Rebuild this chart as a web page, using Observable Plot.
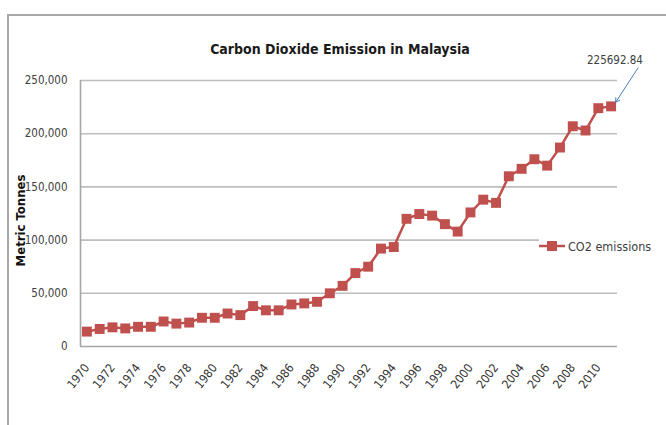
<!DOCTYPE html>
<html><head><meta charset="utf-8">
<script src="https://cdn.jsdelivr.net/npm/d3@7"></script>
<script src="https://cdn.jsdelivr.net/npm/@observablehq/plot@0.6"></script>
<style>
body{margin:0;background:#fff;}
#wrap{position:relative;width:666px;height:425px;overflow:hidden;font-family:"Liberation Sans Narrow","DejaVu Sans Condensed",sans-serif;}
#frame{position:absolute;left:7px;top:14px;width:700px;height:500px;border:2px solid #a8a8a8;box-sizing:border-box;}
#legend{position:absolute;left:539px;top:237px;background:#fff;display:flex;align-items:center;font-size:12.5px;color:#404040;padding:0 2px 0 0;height:18px;}
#chart{position:absolute;left:0;top:0;}
</style></head>
<body><div id="wrap"><div id="chart"></div></div>
<script>
const title = "Carbon Dioxide Emission in Malaysia";
const yLabel = "Metric Tonnes";
const seriesName = "CO2 emissions";
const lastLabel = "225692.84";
const years = [1970,1971,1972,1973,1974,1975,1976,1977,1978,1979,1980,1981,1982,1983,1984,1985,1986,1987,1988,1989,1990,1991,1992,1993,1994,1995,1996,1997,1998,1999,2000,2001,2002,2003,2004,2005,2006,2007,2008,2009,2010,2011];
const emissions = [14000,16500,18000,17000,18500,18500,23500,21500,22500,27000,27000,31000,29500,38000,34000,34000,39500,40500,42000,50000,57000,69000,75000,92000,93500,120000,124500,123000,115000,108000,126000,138000,135000,160000,167000,176000,170000,187000,207000,203000,224000,225692.84];
const xTickLabels = [1970,1972,1974,1976,1978,1980,1982,1984,1986,1988,1990,1992,1994,1996,1998,2000,2002,2004,2006,2008,2010];
const yTicks = [0,50000,100000,150000,200000,250000];

const data = years.map((y, i) => ({year: y, value: emissions[i]}));
const last = data[data.length - 1];
const red = "#c0504d";
const fontFam = '"Liberation Sans Narrow","DejaVu Sans Condensed",sans-serif';

const plot = Plot.plot({
  width: 666, height: 425,
  marginLeft: 80, marginRight: 49, marginTop: 80, marginBottom: 79,
  style: {background: "transparent", fontFamily: fontFam, overflow: "visible"},
  x: {domain: [years[0] - 0.5, years[years.length - 1] + 0.5], axis: null},
  y: {domain: [0, 250000], axis: null},
  marks: [
    Plot.gridY(yTicks.slice(1), {stroke: "#bdbdbd", strokeOpacity: 1, strokeWidth: 1.6}),
    Plot.ruleX([years[0] - 0.5], {stroke: "#a6a6a6", strokeWidth: 1.6}),
    Plot.ruleY([0], {stroke: "#a6a6a6", strokeWidth: 1.6}),
    Plot.axisY(yTicks, {tickSize: 0, tickPadding: 13, tickFormat: d3.format(","), fontSize: 11.5, fill: "#404040", label: null}),
    Plot.axisX(xTickLabels, {tickSize: 0, tickPadding: 19, tickRotate: -52, tickFormat: d => String(d), fontSize: 12, fill: "#333", label: null}),
    Plot.line(data, {x: "year", y: "value", stroke: red, strokeWidth: 2.5}),
    Plot.dot(data, {x: "year", y: "value", symbol: "square", r: 5.6, fill: red, stroke: "none"}),
    Plot.text([title], {frameAnchor: "top", dx: -9, dy: -36, fontSize: 14, fontWeight: "bold", fill: "#1a1a1a"}),
    Plot.text([yLabel], {frameAnchor: "left", textAnchor: "middle", dx: -60, dy: 7, rotate: -90, fontSize: 13, fontWeight: "bold", fill: "#111"}),
    Plot.text([last], {x: d => d.year + 0.3, y: d => d.value + 43000, text: () => lastLabel, fontSize: 11.5, fill: "#404040"}),
    Plot.arrow([last], {x1: d => d.year + 2.1, y1: d => d.value + 36000, x2: d => d.year + 0.35, y2: d => d.value + 3800, stroke: "#4a7ebb", strokeWidth: 1, headLength: 7, bend: 0})
  ]
});
const wrap = document.getElementById("chart");
wrap.appendChild(plot);
const outer = document.getElementById("wrap");
const frame = document.createElement("div"); frame.id = "frame"; outer.appendChild(frame);
const legend = document.createElement("div"); legend.id = "legend";
legend.innerHTML = `<svg width="26" height="14" style="display:block"><line x1="0" y1="7" x2="26" y2="7" stroke="${red}" stroke-width="2.5"/><rect x="8" y="2" width="10" height="10" fill="${red}"/></svg><span style="margin-left:3px">${seriesName}</span>`;
outer.appendChild(legend);
</script>
</body></html>
